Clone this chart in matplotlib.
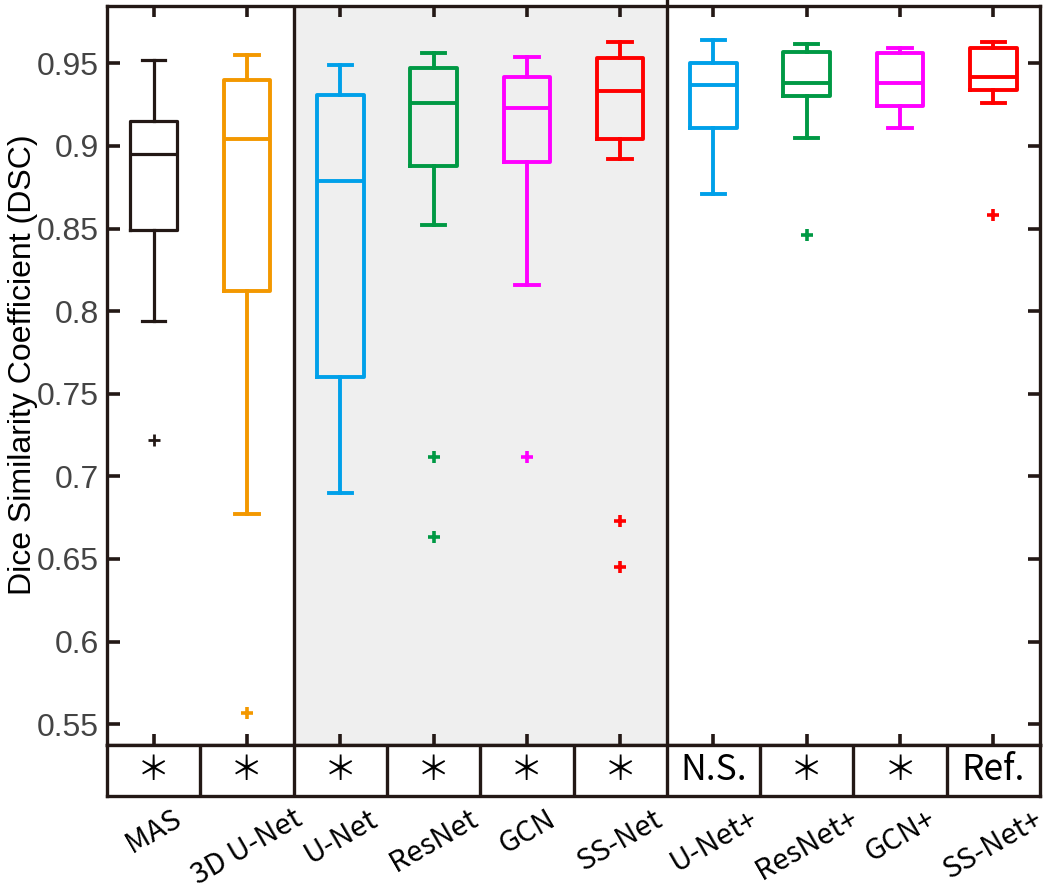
import matplotlib
matplotlib.use("Agg")
import matplotlib.pyplot as plt

categories = ['MAS', '3D U-Net', 'U-Net', 'ResNet', 'GCN', 'SS-Net',
              'U-Net+', 'ResNet+', 'GCN+', 'SS-Net+']
whislo = [0.794, 0.677, 0.690, 0.852, 0.816, 0.892, 0.871, 0.905, 0.911, 0.926]
q1     = [0.849, 0.812, 0.760, 0.888, 0.890, 0.904, 0.911, 0.930, 0.924, 0.934]
med    = [0.895, 0.904, 0.879, 0.926, 0.923, 0.933, 0.937, 0.938, 0.938, 0.942]
q3     = [0.915, 0.940, 0.931, 0.947, 0.942, 0.953, 0.950, 0.957, 0.956, 0.959]
whishi = [0.952, 0.955, 0.949, 0.956, 0.954, 0.963, 0.964, 0.962, 0.959, 0.963]
fliers = [[0.722], [0.557], [], [0.712, 0.663], [0.712], [0.673, 0.645],
          [], [0.846], [], [0.858]]
significance = ['\uff0a', '\uff0a', '\uff0a', '\uff0a', '\uff0a', '\uff0a',
                'N.S.', '\uff0a', '\uff0a', 'Ref.']
yticks = [0.55, 0.6, 0.65, 0.7, 0.75, 0.8, 0.85, 0.9, 0.95]
ytick_labels = ['0.55', '0.6', '0.65', '0.7', '0.75', '0.8', '0.85', '0.9', '0.95']

colors = ['#231815', '#F39800', '#00A0E9', '#009944', '#FF00FF', '#FF0000',
          '#00A0E9', '#009944', '#FF00FF', '#FF0000']
dark = '#231815'
lw_sp = 2.4

fig = plt.figure(figsize=(10.5, 8.88), dpi=100)
W, H = 1050, 888
ax = fig.add_axes([107 / W, 1 - 745 / H, (1040 - 107) / W, (745 - 6) / H])
axs = fig.add_axes([107 / W, 1 - 796 / H, (1040 - 107) / W, (796 - 745) / H])

n = len(categories)
pos = list(range(1, n + 1))
ax.set_xlim(0.5, n + 0.5)
ax.set_ylim(0.5374, 0.9847)
ax.axvspan(2.5, 6.5, color='#EFEFEF', zorder=0, lw=0)

for i in range(n):
    st = [dict(whislo=whislo[i], q1=q1[i], med=med[i], q3=q3[i],
               whishi=whishi[i], fliers=fliers[i])]
    c = colors[i]
    lw = 2.3 if i == 0 else 2.8
    ax.bxp(st, positions=[pos[i]], widths=0.5, capwidths=0.25,
           showfliers=True, manage_ticks=False,
           boxprops=dict(color=c, lw=lw),
           medianprops=dict(color=c, lw=lw),
           whiskerprops=dict(color=c, lw=lw),
           capprops=dict(color=c, lw=lw),
           flierprops=dict(marker='+', markeredgecolor=c, markersize=9,
                           markeredgewidth=2.6 if i else 2.0, linestyle='none'))

ax.axvline(2.5, color=dark, lw=lw_sp, zorder=3)
ax.axvline(6.5, color=dark, lw=lw_sp, zorder=3, ymax=1.01, clip_on=False)

for s in ax.spines.values():
    s.set_linewidth(lw_sp)
    s.set_color(dark)

ax.set_yticks(yticks)
ax.set_yticklabels(ytick_labels)
ax.tick_params(axis='y', direction='in', length=9, width=2.6, color=dark,
               left=True, right=True, labelsize=23, labelcolor='#444444', pad=6)
for t in ax.get_yticklabels():
    t.set_family(['Liberation Sans', 'DejaVu Sans'])
ax.set_xticks(pos)
ax.tick_params(axis='x', direction='in', length=8, width=2.6, color=dark,
               top=True, bottom=True, labelbottom=False)

ax.set_ylabel('Dice Similarity Coefficient (DSC)', fontsize=23,
              family=['Liberation Sans', 'DejaVu Sans'], color='black')
ax.yaxis.set_label_coords(-0.074, 0.515)

# significance row
axs.set_xlim(0.5, n + 0.5)
axs.set_ylim(0, 1)
axs.set_xticks([])
axs.set_yticks([])
for s in axs.spines.values():
    s.set_linewidth(lw_sp)
    s.set_color(dark)
for k in range(1, n):
    axs.axvline(k + 0.5, color=dark, lw=lw_sp)
for i in range(n):
    txt = significance[i]
    if txt == '\uff0a':
        axs.text(pos[i], 0.5, txt, ha='center', va='center', fontsize=24,
                 family=['Noto Sans CJK JP', 'DejaVu Sans'], color='black')
    else:
        axs.text(pos[i], 0.5, txt, ha='center', va='center', fontsize=25.5,
                 family=['Noto Sans CJK JP', 'DejaVu Sans'], color='black')

# category labels
for i in range(n):
    fig.text((107 + (pos[i] - 0.5) * (1040 - 107) / n) / W, 1 - 804 / H,
             categories[i], rotation=30, ha='center', va='top', fontsize=21,
             family=['Noto Sans CJK JP', 'DejaVu Sans'], color='black')

fig.savefig('out.png', dpi=100)
